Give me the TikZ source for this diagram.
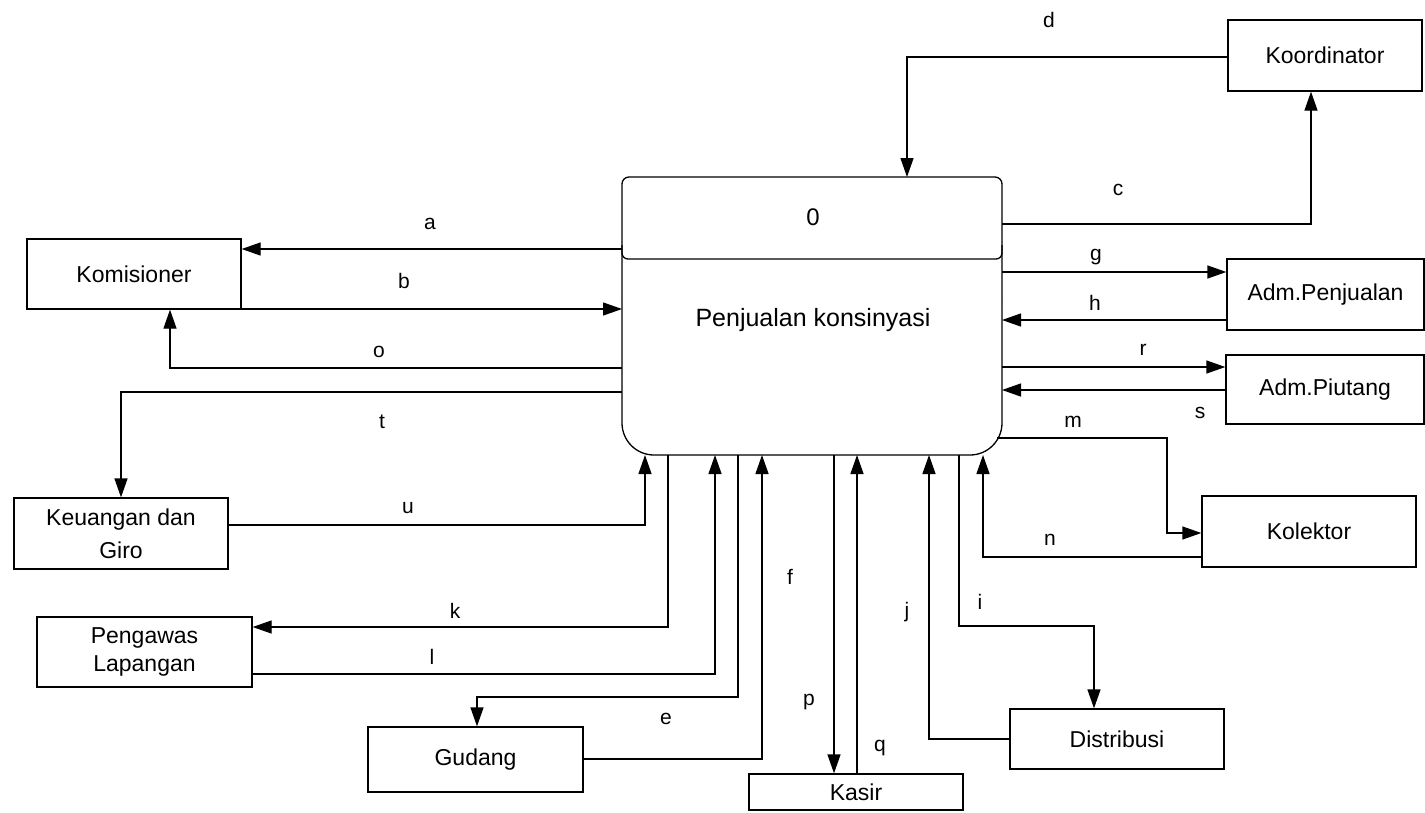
\documentclass[tikz,border=0pt]{standalone}
\usepackage{fontspec}
\setmainfont{Liberation Sans}
\usetikzlibrary{arrows.meta}
\begin{document}
\begin{tikzpicture}[x=1pt,y=-1pt,line width=1.3pt,
  arr/.style={-{Triangle[length=19pt,width=13pt]}},
  ent/.style={draw,rectangle,inner sep=0pt,align=center,font=\fontsize{23}{28}\selectfont},
  lbl/.style={inner sep=0pt,font=\fontsize{21}{25}\selectfont}]
\useasboundingbox (0,0) rectangle (1425,812);

% external entities
\node[ent,minimum width=194pt,minimum height=71pt] (kor)   at (1325,55.5)  {Koordinator};
\node[ent,minimum width=214pt,minimum height=70pt] (kom)   at (134,274)    {Komisioner};
\node[ent,minimum width=197pt,minimum height=71pt] (admp)  at (1325.5,294.5) {Adm.Penjualan};
\node[ent,minimum width=198pt,minimum height=69pt] (admpi) at (1325,389.5) {Adm.Piutang};
\node[ent,minimum width=214pt,minimum height=71pt] (kol)   at (1309,531.5) {Kolektor};
\node[ent,minimum width=214pt,minimum height=71pt,font=\fontsize{23}{33}\selectfont] (keu) at (121,533.5) {Keuangan dan\\Giro};
\node[ent,minimum width=215pt,minimum height=70pt,font=\fontsize{23}{28}\selectfont] (pen) at (144.5,652) {Pengawas\\Lapangan};
\node[ent,minimum width=215pt,minimum height=65pt] (gud)   at (475.5,759.5) {Gudang};
\node[ent,minimum width=214pt,minimum height=36pt] (kas)   at (856,792)    {Kasir};
\node[ent,minimum width=214pt,minimum height=60pt] (dis)   at (1117,739)   {Distribusi};

% process 0
\node[minimum width=380pt,minimum height=278pt,inner sep=0pt,outer sep=0pt] (proc) at (812,316) {};
\coordinate (mid) at (0,300);
\coordinate (hd) at (0,259);
\coordinate (hs) at (0,245);
\draw[rounded corners=7pt] (proc.west |- mid) |- (proc.north) -| (proc.east |- mid);
\draw[rounded corners=32pt] (proc.west |- mid) |- (proc.south) -| (proc.east |- mid);
\draw[rounded corners=6pt] (proc.west |- hs) -- (proc.west |- hd) -- (proc.east |- hd) -- (proc.east |- hs);
\node[font=\fontsize{24}{28}\selectfont] (pnum) at (813,217) {0};
\node[font=\fontsize{25}{30}\selectfont] (pname) at (813,320) {Penjualan konsinyasi};

% bend points and levels of the flows
\coordinate (ya) at (0,249);
\coordinate (yb) at (0,309);
\coordinate (o1) at (170,368);
\coordinate (t1) at (121,392);
\coordinate (u1) at (645,525);
\coordinate (d1) at (907,57);
\coordinate (c1) at (1311,224);
\coordinate (g1) at (0,272);
\coordinate (h1) at (0,320);
\coordinate (r1) at (0,367);
\coordinate (s1) at (0,390);
\coordinate (m0) at (997,438);
\coordinate (m1) at (1167,533);
\coordinate (n1) at (983,557);
\coordinate (k1) at (668,627);
\coordinate (l1) at (715,674);
\coordinate (e1) at (738,697);
\coordinate (e2) at (477,697);
\coordinate (f1) at (762,759);
\coordinate (p1) at (834,0);
\coordinate (q1) at (857,0);
\coordinate (j1) at (929,739);
\coordinate (i1) at (959,626);
\coordinate (i2) at (1094,626);

% data flows
\draw[arr] (proc.west |- ya) -- (kom.east |- ya);
\draw[arr] (kom.east |- yb) -- (proc.west |- yb);
\draw[arr] (proc.west |- o1) -| (kom.south -| o1);
\draw[arr] (proc.west |- t1) -| (keu.north -| t1);
\draw[arr] (keu.east |- u1) -| (proc.south -| u1);
\draw[arr] (kor.west |- d1) -| (proc.north -| d1);
\draw[arr] (proc.east |- c1) -| (kor.south -| c1);
\draw[arr] (proc.east |- g1) -- (admp.west |- g1);
\draw[arr] (admp.west |- h1) -- (proc.east |- h1);
\draw[arr] (proc.east |- r1) -- (admpi.west |- r1);
\draw[arr] (admpi.west |- s1) -- (proc.east |- s1);
\draw[arr] (m0) -| (m1) -- (kol.west |- m1);
\draw[arr] (kol.west |- n1) -| (proc.south -| n1);
\draw[arr] (proc.south -| k1) |- (pen.east |- k1);
\draw[arr] (pen.east |- l1) -| (proc.south -| l1);
\draw[arr] (proc.south -| e1) |- (e2) -- (gud.north -| e2);
\draw[arr] (gud.east |- f1) -| (proc.south -| f1);
\draw[arr] (proc.south -| p1) -- (kas.north -| p1);
\draw[arr] (kas.north -| q1) -- (proc.south -| q1);
\draw[arr] (dis.west |- j1) -| (proc.south -| j1);
\draw[arr] (proc.south -| i1) |- (i2) -- (dis.north -| i2);

% flow labels
\node[lbl] (la) at (430,224) {a};
\node[lbl] (lb) at (404,281) {b};
\node[lbl] (lc) at (1118,190) {c};
\node[lbl] (ld) at (1049,20) {d};
\node[lbl] (le) at (666,719) {e};
\node[lbl] (lf) at (790,577) {f};
\node[lbl] (lg) at (1096,257) {g};
\node[lbl] (lh) at (1095,303) {h};
\node[lbl] (li) at (980,602) {i};
\node[lbl] (lj) at (907,612) {j};
\node[lbl] (lk) at (455,611) {k};
\node[lbl] (ll) at (432,657) {l};
\node[lbl] (lm) at (1073,422) {m};
\node[lbl] (ln) at (1050,540) {n};
\node[lbl] (lo) at (379,352) {o};
\node[lbl] (lp) at (809,702) {p};
\node[lbl] (lq) at (880,748) {q};
\node[lbl] (lr) at (1143,350) {r};
\node[lbl] (ls) at (1200,413) {s};
\node[lbl] (lt) at (382,422) {t};
\node[lbl] (lu) at (408,508) {u};
\end{tikzpicture}
\end{document}
